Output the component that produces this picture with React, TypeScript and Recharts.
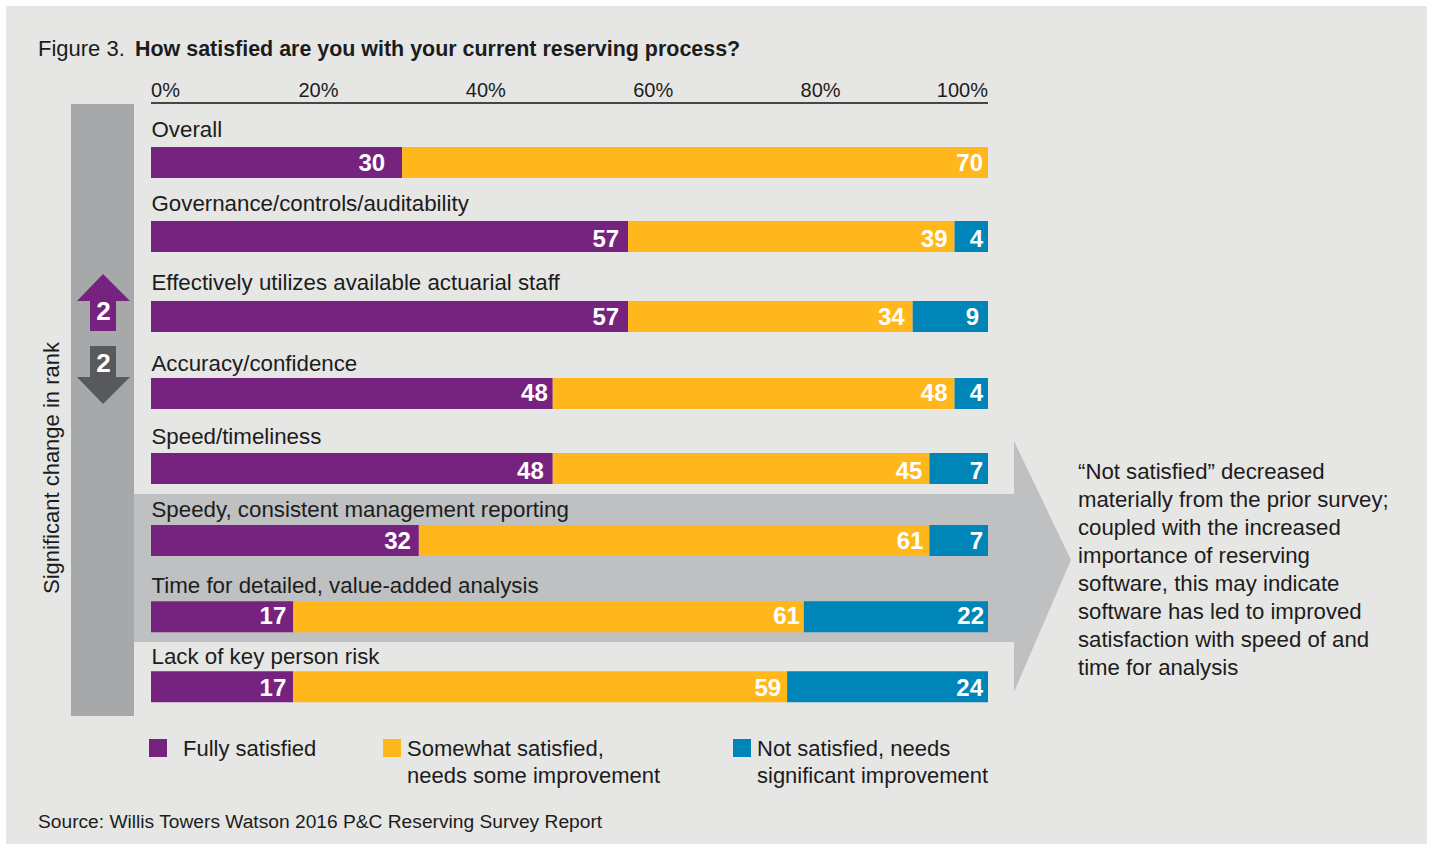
import { Bar, BarChart, LabelList, Rectangle, XAxis, YAxis } from "recharts"

const categories = [
  "Overall",
  "Governance/controls/auditability",
  "Effectively utilizes available actuarial staff",
  "Accuracy/confidence",
  "Speed/timeliness",
  "Speedy, consistent management reporting",
  "Time for detailed, value-added analysis",
  "Lack of key person risk",
]
const fullySatisfied = [30, 57, 57, 48, 48, 32, 17, 17]
const somewhatSatisfied = [70, 39, 34, 48, 45, 61, 61, 59]
const notSatisfied = [0, 4, 9, 4, 7, 7, 22, 24]
const percentTicks = [0, 20, 40, 60, 80, 100]

const noteLines = [
  "“Not satisfied” decreased",
  "materially from the prior survey;",
  "coupled with the increased",
  "importance of reserving",
  "software, this may indicate",
  "software has led to improved",
  "satisfaction with speed of and",
  "time for analysis",
]

const data = categories.map((category, i) => ({
  category,
  fully: fullySatisfied[i],
  somewhat: somewhatSatisfied[i],
  not: notSatisfied[i],
}))

const FONT = '"Liberation Sans", Arial, sans-serif'
const INK = "#1c1c1c"
const PURPLE = "#75237f"
const ORANGE = "#ffb71b"
const BLUE = "#0085b8"
const PLOT_LEFT = 151

// rows are not evenly spaced, so each one is nudged off its band
const rowNudge = [0, -0.9, 4.3, 6.4, 6.6, 3.7, 4.9, 0]
const rowLabelNudge = [1, 1, -0.5, 4, 1.5, 2.5, 2.5, 3]
const valueNudge = [0, 2, 0, -1, 2, 0, -1, 1]

// distance from the end of a segment to the end of its number
const fullyGap = [17, 9, 9, 5, 9, 8, 7, 7]
const somewhatGap = [5, 7, 8, 7, 7, 6, 4, 6]
const notGap = [5, 5, 9, 5, 5, 5, 4, 5]

const NudgedBar = (props: any) => <Rectangle {...props} y={props.y + rowNudge[props.index]} />

const valueLabel = (gaps: number[]) => (props: any) => {
  const { x, y, width, height, value, index } = props
  if (!value) return null
  return (
    <text
      x={x + width - gaps[index]}
      y={y + height / 2 + rowNudge[index] + valueNudge[index] + 8.5}
      textAnchor="end"
      fill="#fff"
      fontFamily={FONT}
      fontSize={24}
      fontWeight={700}
    >
      {value}
    </text>
  )
}

const PercentTick = ({ x, payload }: any) => {
  const v = payload.value
  const anchor = v === 0 ? "start" : v === 100 ? "end" : "middle"
  return (
    <text x={x} y={97} textAnchor={anchor} fill={INK} fontFamily={FONT} fontSize={20}>
      {v}%
    </text>
  )
}

const RowTick = ({ y, payload, index }: any) => (
  <text
    x={PLOT_LEFT + 0.5}
    y={y + rowNudge[index] + rowLabelNudge[index] - 26}
    fill={INK}
    fontFamily={FONT}
    fontSize={22.3}
  >
    {payload.value}
  </text>
)

const textStyle: React.CSSProperties = {
  position: "absolute",
  fontFamily: FONT,
  color: INK,
  lineHeight: "26px",
  whiteSpace: "nowrap",
}

const LegendEntry = ({ x, textX, color, lines }: { x: number; textX: number; color: string; lines: string[] }) => (
  <>
    <div style={{ position: "absolute", left: x, top: 739, width: 18, height: 18, background: color }} />
    {lines.map((line, i) => (
      <div key={line} style={{ ...textStyle, left: textX, top: 736 + i * 27, fontSize: 22 }}>
        {line}
      </div>
    ))}
  </>
)

export default function App() {
  return (
    <div style={{ position: "absolute", left: 0, top: 0, width: 1430, height: 844, background: "#fff", overflow: "hidden" }}>
      <div style={{ position: "absolute", left: 6, top: 6, width: 1421, height: 838, background: "#e6e6e4" }} />

      {/* rank strip and the call-out arrow sit behind the bars */}
      <svg width={1430} height={844} style={{ position: "absolute", left: 0, top: 0 }}>
        <rect x={71} y={104} width={63} height={612} fill="#a7a8aa" />
        <polygon points="134,494 1014,494 1014,441 1071,560 1014,692 1014,642 134,642" fill="#bfc0c2" />
        <polygon points="103,274 130,301 116,301 116,331 90,331 90,301 77,301" fill={PURPLE} />
        <polygon points="90,346 116,346 116,377 130,377 103,404 77,377 90,377" fill="#58595b" />
        <text x={103.5} y={320} textAnchor="middle" fill="#fff" fontFamily={FONT} fontSize={26} fontWeight={700}>2</text>
        <text x={103.5} y={372} textAnchor="middle" fill="#fff" fontFamily={FONT} fontSize={26} fontWeight={700}>2</text>
        <text
          transform="translate(59,468) rotate(-90)"
          textAnchor="middle"
          fill={INK}
          fontFamily={FONT}
          fontSize={22}
        >
          Significant change in rank
        </text>
      </svg>

      <div style={{ position: "absolute", left: 0, top: 0 }}>
        <BarChart
          width={1430}
          height={844}
          data={data}
          layout="vertical"
          barSize={31}
          margin={{ top: 73, right: 442, bottom: 120, left: 121 }}
        >
          <XAxis
            type="number"
            orientation="top"
            domain={[0, 100]}
            ticks={percentTicks}
            interval={0}
            height={30}
            tickLine={false}
            axisLine={{ stroke: "#111", strokeWidth: 1.6 }}
            tick={PercentTick}
          />
          <YAxis
            type="category"
            dataKey="category"
            width={30}
            interval={0}
            padding={{ top: 22, bottom: 0 }}
            tickLine={false}
            axisLine={false}
            tick={RowTick}
          />
          <Bar dataKey="fully" stackId="a" fill={PURPLE} shape={NudgedBar} isAnimationActive={false}>
            <LabelList dataKey="fully" content={valueLabel(fullyGap)} />
          </Bar>
          <Bar dataKey="somewhat" stackId="a" fill={ORANGE} shape={NudgedBar} isAnimationActive={false}>
            <LabelList dataKey="somewhat" content={valueLabel(somewhatGap)} />
          </Bar>
          <Bar dataKey="not" stackId="a" fill={BLUE} shape={NudgedBar} isAnimationActive={false}>
            <LabelList dataKey="not" content={valueLabel(notGap)} />
          </Bar>
        </BarChart>
      </div>

      <div style={{ ...textStyle, left: 38, top: 36, fontSize: 22 }}>Figure 3.</div>
      <div style={{ ...textStyle, left: 135, top: 36, fontSize: 21.45, fontWeight: 700 }}>
        How satisfied are you with your current reserving process?
      </div>

      {noteLines.map((line, i) => (
        <div key={line} style={{ ...textStyle, left: 1078, top: 459 + i * 28, fontSize: 22.2 }}>
          {line}
        </div>
      ))}

      <LegendEntry x={149} textX={183} color={PURPLE} lines={["Fully satisfied"]} />
      <LegendEntry x={383} textX={407} color={ORANGE} lines={["Somewhat satisfied,", "needs some improvement"]} />
      <LegendEntry x={733} textX={757} color={BLUE} lines={["Not satisfied, needs", "significant improvement"]} />

      <div style={{ ...textStyle, left: 38, top: 809, fontSize: 19.2 }}>
        Source: Willis Towers Watson 2016 P&amp;C Reserving Survey Report
      </div>
    </div>
  )
}
